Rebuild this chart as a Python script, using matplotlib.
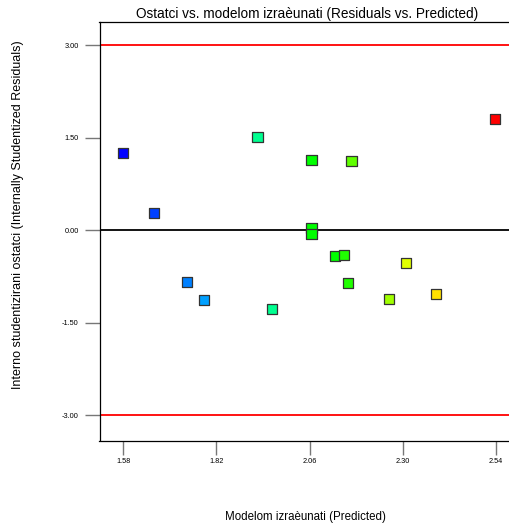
import matplotlib.pyplot as plt

plt.rcParams['font.family'] = ['Liberation Sans', 'DejaVu Sans']

predicted = [1.580, 1.659, 1.744, 1.787, 1.926, 1.963, 2.065, 2.168, 2.065, 2.065,
             2.126, 2.148, 2.160, 2.308, 2.265, 2.385, 2.537]
residuals = [1.244, 0.281, -0.838, -1.135, 1.513, -1.281, 1.130, 1.114, 0.027, -0.065,
             -0.427, -0.405, -0.865, -0.541, -1.124, -1.038, 1.800]
point_colors = ['#0000ff', '#0040ff', '#0080ff', '#00a0ff', '#00ff90', '#00ff90', '#00ff00',
                '#60ff00', '#00ff00', '#00ff00', '#00ff00', '#20ff00', '#20ff00',
                '#e0ff00', '#a0ff00', '#ffe000', '#ff0000']
x_ticks = [1.58, 1.82, 2.06, 2.30, 2.54]
y_ticks = [-3.00, -1.50, 0.00, 1.50, 3.00]
limit = 3.00

fig = plt.figure(figsize=(5.09, 5.23), dpi=100)
ax = fig.add_axes([99.5 / 509, 1 - 440 / 523, 1 - 99.5 / 509 + 0.01, 418 / 523])

ax.axhline(limit, color='#ff0000', lw=1.3, zorder=1)
ax.axhline(-limit, color='#ff0000', lw=1.3, zorder=1)
ax.axhline(0, color='black', lw=1.3, zorder=1)

ax.scatter(predicted, residuals, marker='s', s=54, c=point_colors,
           edgecolors='#333333', linewidths=0.9, zorder=3)

ax.set_xlim(1.5187, 2.587)
ax.set_ylim(-3.405, 3.373)
ax.set_xticks(x_ticks)
ax.set_xticklabels([f'{v:.2f}' for v in x_ticks])
ax.set_yticks(y_ticks)
ax.set_yticklabels([f'{v:.2f}' for v in y_ticks])
ax.tick_params(axis='both', labelsize=5.3, color='#777777', width=1, length=11, pad=4)
ax.tick_params(axis='x', length=10, pad=2)
ax.spines['left'].set_position(('outward', 0))
ax.spines['bottom'].set_position(('outward', 1))
ax.spines['right'].set_visible(False)
for s in ['left', 'bottom', 'top']:
    ax.spines[s].set_linewidth(0.9)

ax.set_title('Ostatci vs. modelom izraèunati (Residuals vs. Predicted)', fontsize=9.8, pad=3)
fig.text(305 / 509, 1 - 517 / 523, 'Modelom izraèunati (Predicted)', ha='center', va='center', fontsize=8.3)
fig.text(18 / 509, 1 - 215 / 523, 'Interno studentizirani ostatci (Internally Studentized Residuals)',
         ha='center', va='center', rotation=90, fontsize=9)

fig.savefig('out.png', dpi=100)
